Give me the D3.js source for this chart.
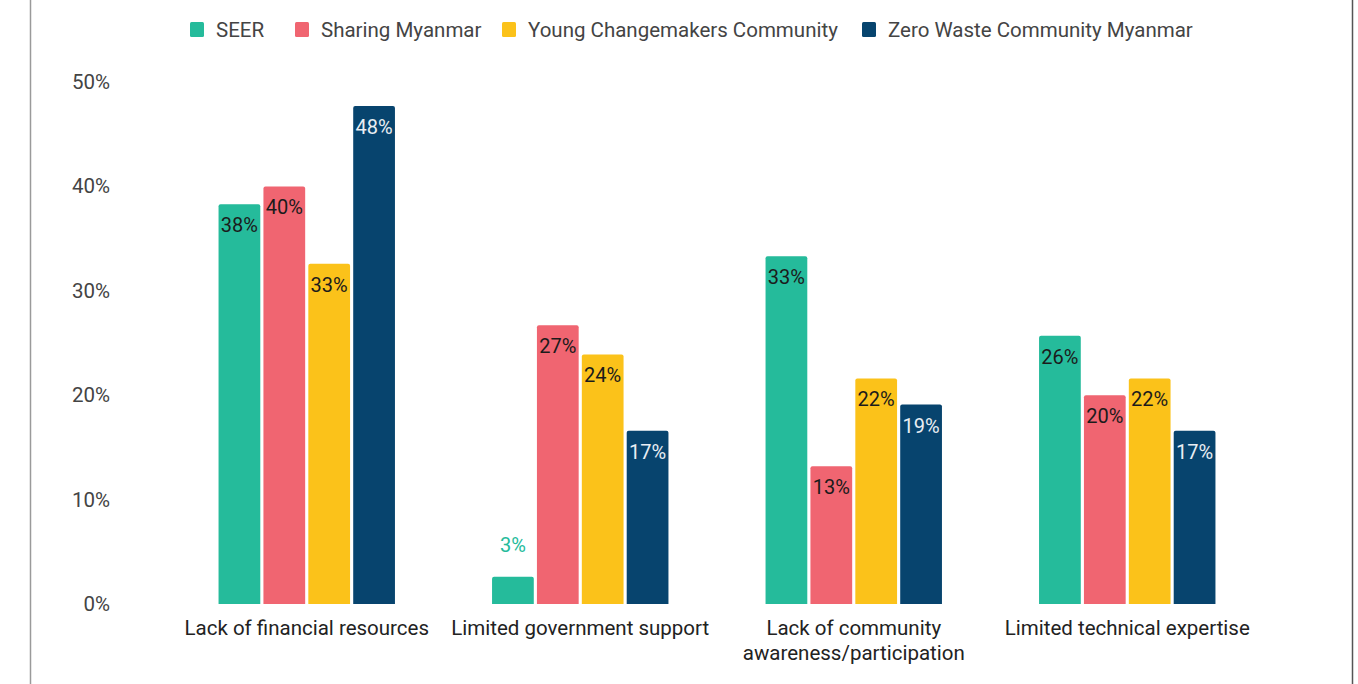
<!DOCTYPE html>
<html>
<head>
<meta charset="utf-8">
<script src="https://cdn.jsdelivr.net/npm/d3@7"></script>
<style>
  body { margin: 0; background: #fff; }
  svg text { font-family: Roboto, "Liberation Sans", sans-serif; }
</style>
</head>
<body>
<div id="chart"></div>
<script>
// data
var categories = ["Lack of financial resources", "Limited government support", "Lack of community awareness/participation", "Limited technical expertise"];
var categoryLines = [["Lack of financial resources"], ["Limited government support"], ["Lack of community", "awareness/participation"], ["Limited technical expertise"]];
var seriesNames = ["SEER", "Sharing Myanmar", "Young Changemakers Community", "Zero Waste Community Myanmar"];
var seer = [0.383, 0.026, 0.333, 0.257];
var sharing = [0.40, 0.267, 0.132, 0.20];
var young = [0.326, 0.239, 0.216, 0.216];
var zeroWaste = [0.477, 0.166, 0.191, 0.166];
var yTicks = [0, 0.1, 0.2, 0.3, 0.4, 0.5];

var colors = ["#25bb9b", "#f06571", "#fbc21a", "#07446e"];
var labelColors = ["#1b1b1b", "#1b1b1b", "#1b1b1b", "#e9eef3"];

var width = 1358, height = 684;
var svg = d3.select("#chart").append("svg")
  .attr("width", width)
  .attr("height", height);

// frame lines
svg.append("line").attr("x1", 30.5).attr("x2", 30.5).attr("y1", 0).attr("y2", height)
  .attr("stroke", "#9a9a9a").attr("stroke-width", 1.5);
svg.append("line").attr("x1", 1352.5).attr("x2", 1352.5).attr("y1", 0).attr("y2", height)
  .attr("stroke", "#555").attr("stroke-width", 1.5);

var y = d3.scaleLinear().domain([0, 0.5]).range([604, 82]);
var x0 = d3.scaleBand().domain(categories).range([170, 1264]).paddingInner(0.355).paddingOuter(0.1775);
var x1 = d3.scaleBand().domain(seriesNames).range([0, x0.bandwidth()]).paddingInner(0.07);

var series = [seer, sharing, young, zeroWaste];
var pct = d3.format(".0%");

// y axis labels
svg.append("g").selectAll("text")
  .data(yTicks)
  .enter().append("text")
  .attr("x", 110)
  .attr("y", function(d) { return y(d) + 7; })
  .attr("text-anchor", "end")
  .attr("font-size", 20.5)
  .attr("fill", "#444")
  .text(function(d) { return pct(d); });

// bars
var groups = svg.append("g").selectAll("g")
  .data(categories)
  .enter().append("g")
  .attr("transform", function(d) { return "translate(" + x0(d) + ",0)"; });

groups.each(function(cat, ci) {
  var g = d3.select(this);
  seriesNames.forEach(function(name, si) {
    var v = series[si][ci];
    var bx = x1(name), bw = x1.bandwidth();
    var top = y(v), bottom = y(0), r = 2;
    g.append("path")
      .attr("d", "M" + bx + "," + bottom +
        "V" + (top + r) + "Q" + bx + "," + top + " " + (bx + r) + "," + top +
        "H" + (bx + bw - r) + "Q" + (bx + bw) + "," + top + " " + (bx + bw) + "," + (top + r) +
        "V" + bottom + "Z")
      .attr("fill", colors[si]);
    var inside = (bottom - top) > 30;
    g.append("text")
      .attr("x", bx + bw / 2)
      .attr("y", inside ? top + 28 : top - 25)
      .attr("text-anchor", "middle")
      .attr("font-size", 20)
      .attr("fill", inside ? labelColors[si] : colors[si])
      .text(pct(Math.round(v * 100) / 100));
  });
});

// category labels
groups.each(function(cat, ci) {
  var t = d3.select(this).append("text")
    .attr("text-anchor", "middle")
    .attr("font-size", 20.5)
    .attr("fill", "#222");
  categoryLines[ci].forEach(function(line, li) {
    t.append("tspan")
      .attr("x", x0.bandwidth() / 2)
      .attr("y", 635 + li * 25)
      .text(line);
  });
});

// legend
var legendX = [190, 295, 502, 862];
var legend = svg.append("g").selectAll("g")
  .data(seriesNames)
  .enter().append("g")
  .attr("transform", function(d, i) { return "translate(" + legendX[i] + ",22)"; });
legend.append("rect")
  .attr("width", 14).attr("height", 15).attr("rx", 1.5)
  .attr("fill", function(d, i) { return colors[i]; });
legend.append("text")
  .attr("x", 26).attr("y", 15)
  .attr("font-size", 20.5)
  .attr("fill", "#444")
  .text(function(d) { return d; });
</script>
</body>
</html>
